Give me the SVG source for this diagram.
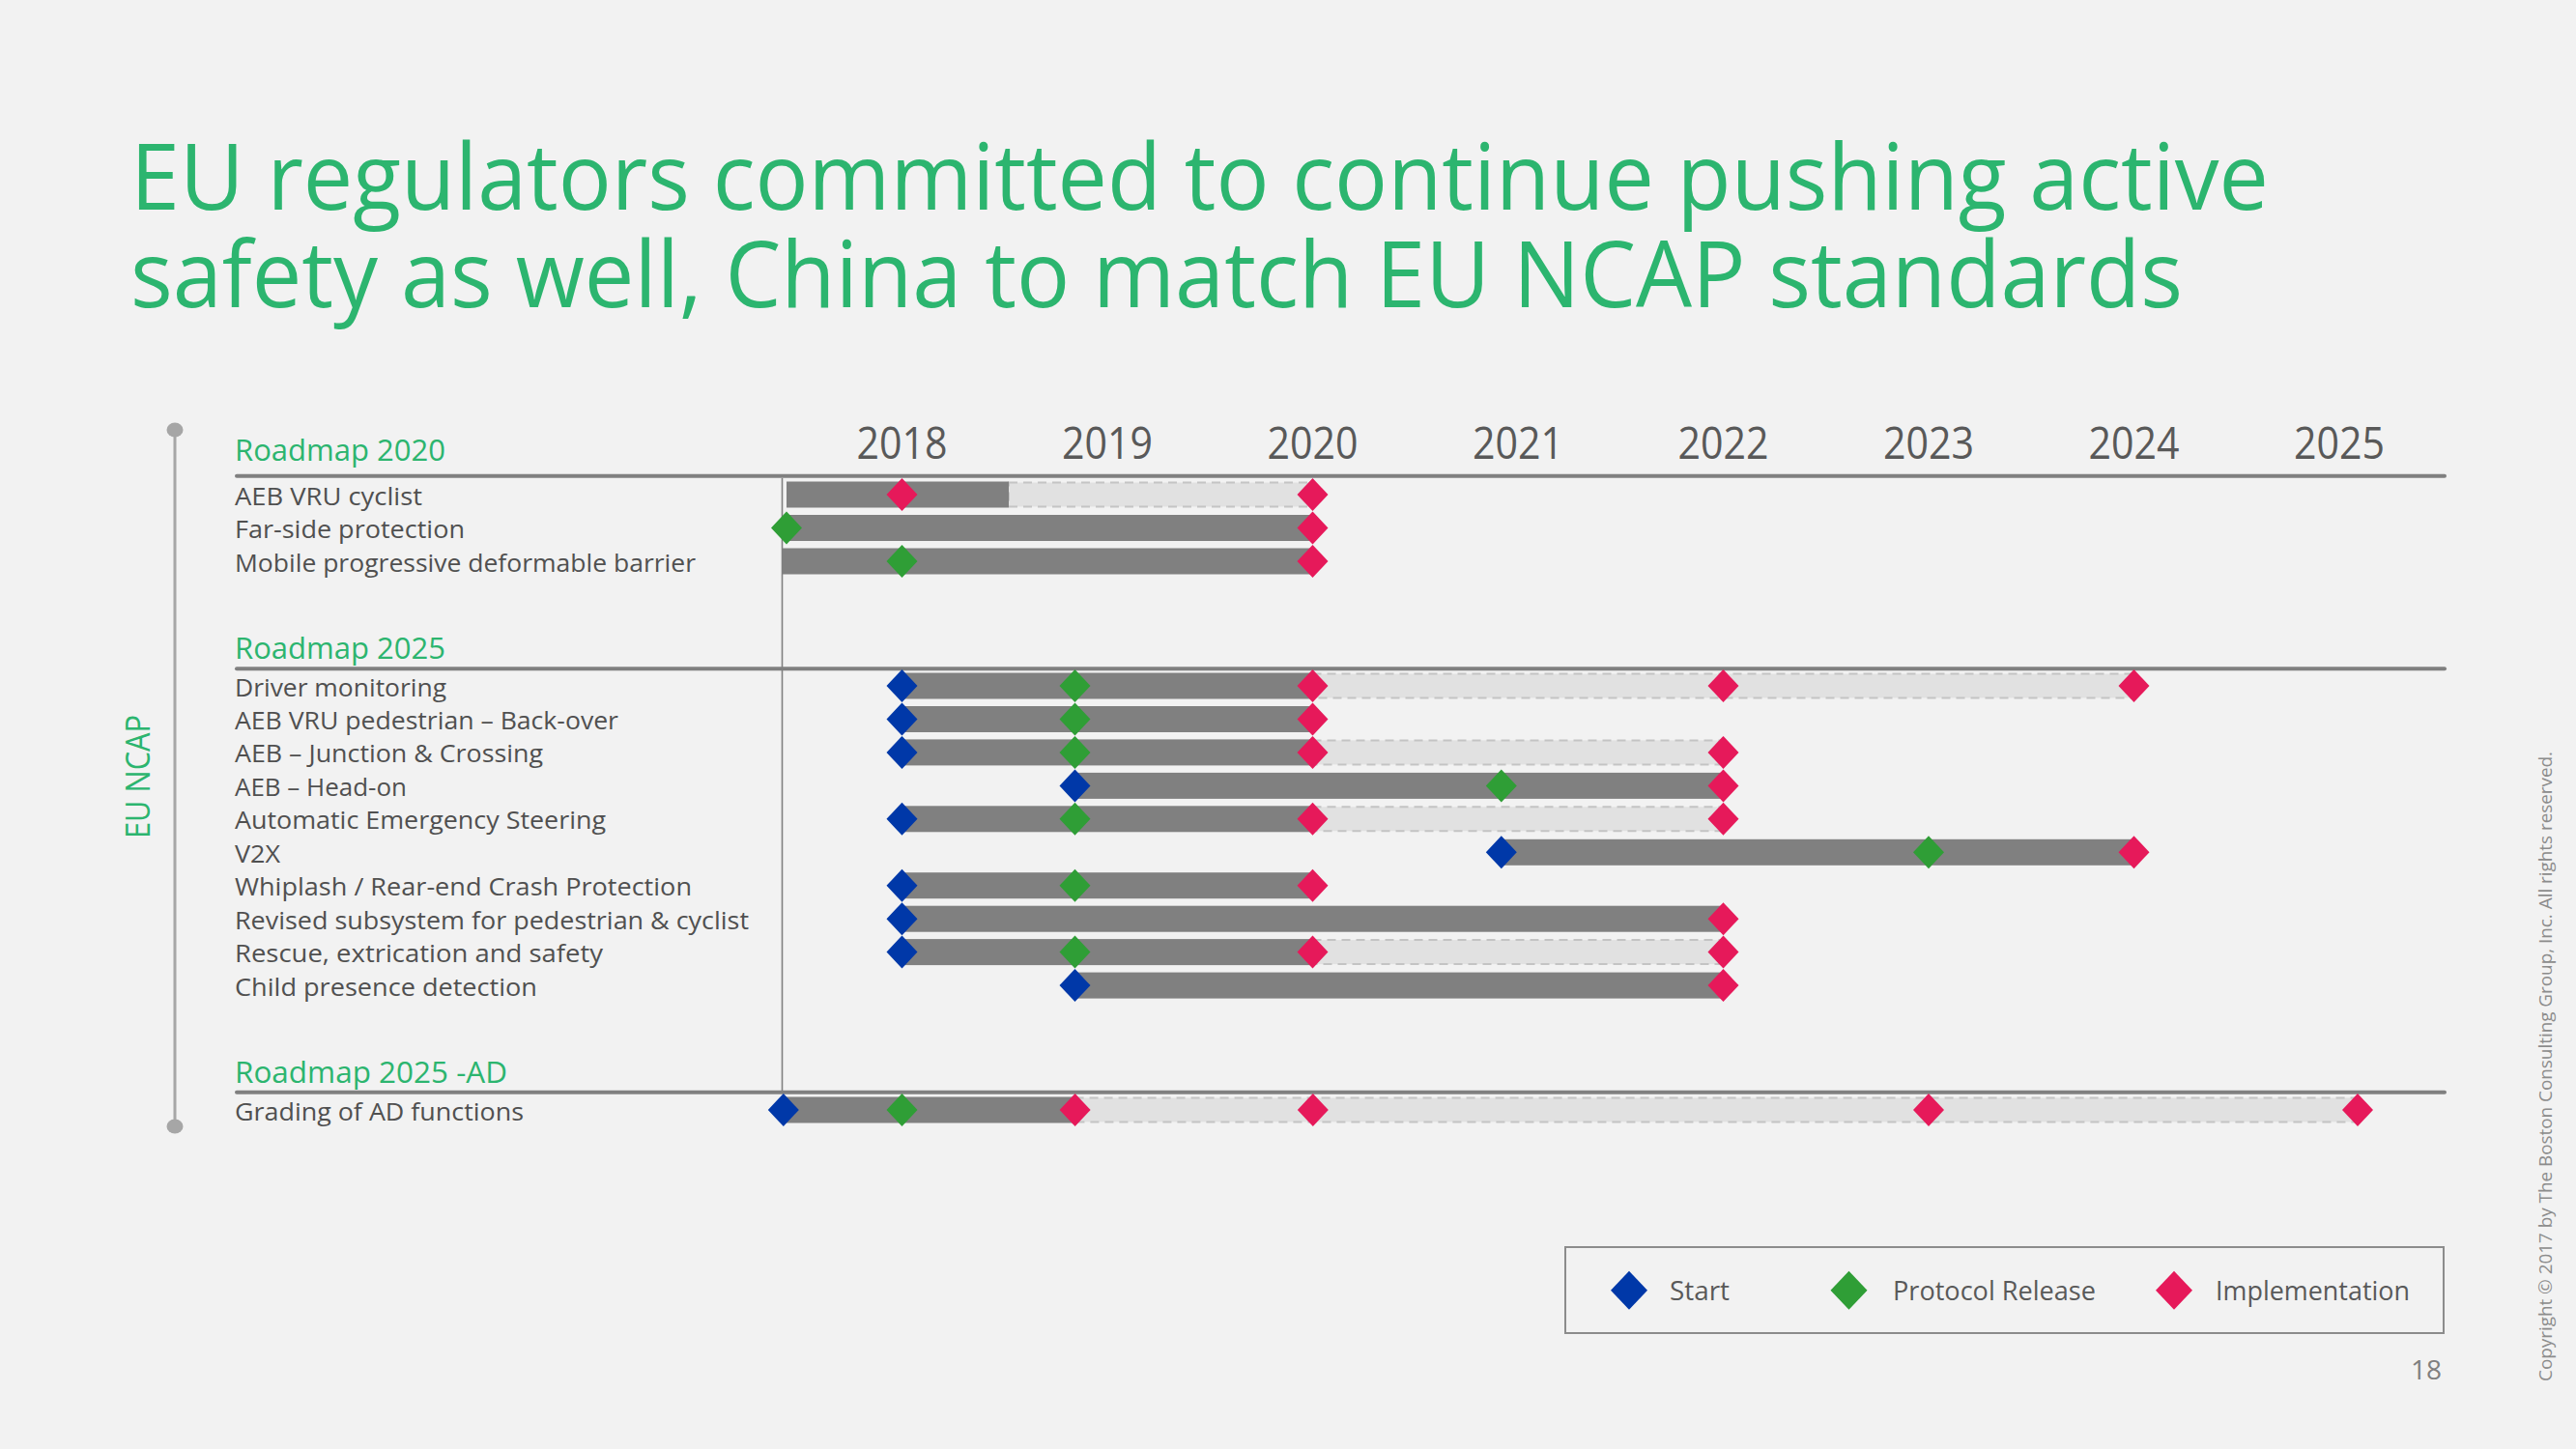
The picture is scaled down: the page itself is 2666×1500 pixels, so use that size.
<svg xmlns="http://www.w3.org/2000/svg" xmlns:xlink="http://www.w3.org/1999/xlink" width="2666" height="1500" viewBox="0 0 2666 1500">
<style>
.bg{fill:#f2f2f2}
.title{font-family:"Open Sans","Liberation Sans",sans-serif;font-size:95px;fill:#2cb56f}
.hdr{font-family:"Open Sans","Liberation Sans",sans-serif;font-size:31px;fill:#2cb56f}
.yr{font-family:"Open Sans","Liberation Sans",sans-serif;font-size:46px;fill:#595959;text-anchor:middle}
.lbl{font-family:"Open Sans","Liberation Sans",sans-serif;font-size:26px;fill:#505050}
.leg{font-family:"Open Sans","Liberation Sans",sans-serif;font-size:28px;fill:#595959}
.side{font-family:"Open Sans","Liberation Sans",sans-serif;font-size:34px;fill:#2cb56f;text-anchor:middle}
.copy{font-family:"Open Sans","Liberation Sans",sans-serif;font-size:18px;fill:#8c8c8c}
.pg{font-family:"Open Sans","Liberation Sans",sans-serif;font-size:28px;fill:#7f7f7f;text-anchor:end}
.dark{fill:#808080}
.light{fill:#e1e1e1;stroke:#c4c4c4;stroke-width:2;stroke-dasharray:9 6}
.hline{stroke:#808080;stroke-width:4;stroke-linecap:round;fill:none}
.b{fill:#0038a8}
.g{fill:#2f9e36}
.r{fill:#e6195a}
</style>
<defs>
<path id="dm" d="M0,-17 L16,0 L0,17 L-16,0Z"/>
<path id="dl" d="M0,-20 L19,0 L0,20 L-19,0Z"/>
</defs>
<rect class="bg" x="0" y="0" width="2666" height="1500"/>

<g id="title">
<text class="title" x="135" y="217" textLength="2213" lengthAdjust="spacingAndGlyphs">EU regulators committed to continue pushing active</text>
<text class="title" x="135" y="318" textLength="2124" lengthAdjust="spacingAndGlyphs">safety as well, China to match EU NCAP standards</text>
</g>

<g id="eu-ncap">
<line x1="181" y1="445" x2="181" y2="1166" stroke="#a6a6a6" stroke-width="3"/>
<ellipse cx="181" cy="445" rx="8.5" ry="7.5" fill="#a6a6a6"/>
<ellipse cx="181" cy="1166" rx="8.5" ry="7.5" fill="#a6a6a6"/>
<text class="side" transform="translate(155,804) rotate(-90)" x="0" y="0" textLength="128" lengthAdjust="spacingAndGlyphs">EU NCAP</text>
</g>

<g id="years">
<text class="yr" x="933.5" y="475" textLength="94" lengthAdjust="spacingAndGlyphs">2018</text>
<text class="yr" x="1146" y="475" textLength="94" lengthAdjust="spacingAndGlyphs">2019</text>
<text class="yr" x="1358.5" y="475" textLength="94" lengthAdjust="spacingAndGlyphs">2020</text>
<text class="yr" x="1571" y="475" textLength="94" lengthAdjust="spacingAndGlyphs">2021</text>
<text class="yr" x="1783.5" y="475" textLength="94" lengthAdjust="spacingAndGlyphs">2022</text>
<text class="yr" x="1996" y="475" textLength="94" lengthAdjust="spacingAndGlyphs">2023</text>
<text class="yr" x="2208.5" y="475" textLength="94" lengthAdjust="spacingAndGlyphs">2024</text>
<text class="yr" x="2421" y="475" textLength="94" lengthAdjust="spacingAndGlyphs">2025</text>
</g>

<g id="connectors">
<line class="hline" x1="245" y1="492.7" x2="2530" y2="492.7"/>
<line class="hline" x1="245" y1="692.3" x2="2530" y2="692.3"/>
<line class="hline" x1="245" y1="1130.7" x2="2530" y2="1130.7"/>
<line x1="809.5" y1="495" x2="809.5" y2="1129" stroke="#808080" stroke-width="1.6"/>
</g>

<g id="headers">
<text class="hdr" x="243" y="477" textLength="218" lengthAdjust="spacingAndGlyphs">Roadmap 2020</text>
<text class="hdr" x="243" y="681.7" textLength="218" lengthAdjust="spacingAndGlyphs">Roadmap 2025</text>
<text class="hdr" x="243" y="1120.7" textLength="282" lengthAdjust="spacingAndGlyphs">Roadmap 2025 -AD</text>
</g>

<!-- Roadmap 2020 -->
<g id="row-aeb-vru-cyclist">
<text class="lbl" x="243" y="522.5" textLength="194" lengthAdjust="spacingAndGlyphs">AEB VRU cyclist</text>
<rect class="light" x="1044" y="499.5" width="314.5" height="25"/>
<rect class="dark" x="814" y="498.5" width="230" height="27"/>
<use xlink:href="#dm" href="#dm" class="r" x="933.5" y="512"/>
<use xlink:href="#dm" href="#dm" class="r" x="1358.5" y="512"/>
</g>
<g id="row-far-side">
<text class="lbl" x="243" y="557" textLength="238" lengthAdjust="spacingAndGlyphs">Far-side protection</text>
<rect class="dark" x="814" y="533" width="544.5" height="27"/>
<use xlink:href="#dm" href="#dm" class="g" x="814" y="546.5"/>
<use xlink:href="#dm" href="#dm" class="r" x="1358.5" y="546.5"/>
</g>
<g id="row-mpdb">
<text class="lbl" x="243" y="591.5" textLength="477" lengthAdjust="spacingAndGlyphs">Mobile progressive deformable barrier</text>
<rect class="dark" x="809.5" y="567.5" width="549" height="27"/>
<use xlink:href="#dm" href="#dm" class="g" x="933.5" y="581"/>
<use xlink:href="#dm" href="#dm" class="r" x="1358.5" y="581"/>
</g>

<!-- Roadmap 2025 -->
<g id="row-driver-monitoring">
<text class="lbl" x="243" y="720.5" textLength="219" lengthAdjust="spacingAndGlyphs">Driver monitoring</text>
<rect class="light" x="1358.5" y="697.5" width="850" height="25"/>
<rect class="dark" x="933.5" y="696.5" width="425" height="27"/>
<use xlink:href="#dm" href="#dm" class="b" x="933.5" y="710"/>
<use xlink:href="#dm" href="#dm" class="g" x="1112.5" y="710"/>
<use xlink:href="#dm" href="#dm" class="r" x="1358.5" y="710"/>
<use xlink:href="#dm" href="#dm" class="r" x="1783.5" y="710"/>
<use xlink:href="#dm" href="#dm" class="r" x="2208.5" y="710"/>
</g>
<g id="row-aeb-back-over">
<text class="lbl" x="243" y="755" textLength="397" lengthAdjust="spacingAndGlyphs">AEB VRU pedestrian – Back-over</text>
<rect class="dark" x="933.5" y="731" width="425" height="27"/>
<use xlink:href="#dm" href="#dm" class="b" x="933.5" y="744.5"/>
<use xlink:href="#dm" href="#dm" class="g" x="1112.5" y="744.5"/>
<use xlink:href="#dm" href="#dm" class="r" x="1358.5" y="744.5"/>
</g>
<g id="row-aeb-junction">
<text class="lbl" x="243" y="789.4" textLength="319" lengthAdjust="spacingAndGlyphs">AEB – Junction &amp; Crossing</text>
<rect class="light" x="1358.5" y="766.4" width="425" height="25"/>
<rect class="dark" x="933.5" y="765.4" width="425" height="27"/>
<use xlink:href="#dm" href="#dm" class="b" x="933.5" y="778.9"/>
<use xlink:href="#dm" href="#dm" class="g" x="1112.5" y="778.9"/>
<use xlink:href="#dm" href="#dm" class="r" x="1358.5" y="778.9"/>
<use xlink:href="#dm" href="#dm" class="r" x="1783.5" y="778.9"/>
</g>
<g id="row-aeb-head-on">
<text class="lbl" x="243" y="823.9" textLength="178" lengthAdjust="spacingAndGlyphs">AEB – Head-on</text>
<rect class="dark" x="1112.5" y="799.9" width="671" height="27"/>
<use xlink:href="#dm" href="#dm" class="b" x="1112.5" y="813.4"/>
<use xlink:href="#dm" href="#dm" class="g" x="1553.8" y="813.4"/>
<use xlink:href="#dm" href="#dm" class="r" x="1783.5" y="813.4"/>
</g>
<g id="row-aes">
<text class="lbl" x="243" y="858.3" textLength="384" lengthAdjust="spacingAndGlyphs">Automatic Emergency Steering</text>
<rect class="light" x="1358.5" y="835.3" width="425" height="25"/>
<rect class="dark" x="933.5" y="834.3" width="425" height="27"/>
<use xlink:href="#dm" href="#dm" class="b" x="933.5" y="847.8"/>
<use xlink:href="#dm" href="#dm" class="g" x="1112.5" y="847.8"/>
<use xlink:href="#dm" href="#dm" class="r" x="1358.5" y="847.8"/>
<use xlink:href="#dm" href="#dm" class="r" x="1783.5" y="847.8"/>
</g>
<g id="row-v2x">
<text class="lbl" x="243" y="892.8" textLength="47" lengthAdjust="spacingAndGlyphs">V2X</text>
<rect class="dark" x="1553.8" y="868.8" width="654.7" height="27"/>
<use xlink:href="#dm" href="#dm" class="b" x="1553.8" y="882.3"/>
<use xlink:href="#dm" href="#dm" class="g" x="1996" y="882.3"/>
<use xlink:href="#dm" href="#dm" class="r" x="2208.5" y="882.3"/>
</g>
<g id="row-whiplash">
<text class="lbl" x="243" y="927.2" textLength="473" lengthAdjust="spacingAndGlyphs">Whiplash / Rear-end Crash Protection</text>
<rect class="dark" x="933.5" y="903.2" width="425" height="27"/>
<use xlink:href="#dm" href="#dm" class="b" x="933.5" y="916.7"/>
<use xlink:href="#dm" href="#dm" class="g" x="1112.5" y="916.7"/>
<use xlink:href="#dm" href="#dm" class="r" x="1358.5" y="916.7"/>
</g>
<g id="row-revised-subsystem">
<text class="lbl" x="243" y="961.7" textLength="532" lengthAdjust="spacingAndGlyphs">Revised subsystem for pedestrian &amp; cyclist</text>
<rect class="dark" x="933.5" y="937.7" width="850" height="27"/>
<use xlink:href="#dm" href="#dm" class="b" x="933.5" y="951.2"/>
<use xlink:href="#dm" href="#dm" class="r" x="1783.5" y="951.2"/>
</g>
<g id="row-rescue">
<text class="lbl" x="243" y="996.1" textLength="381" lengthAdjust="spacingAndGlyphs">Rescue, extrication and safety</text>
<rect class="light" x="1358.5" y="973.1" width="425" height="25"/>
<rect class="dark" x="933.5" y="972.1" width="425" height="27"/>
<use xlink:href="#dm" href="#dm" class="b" x="933.5" y="985.6"/>
<use xlink:href="#dm" href="#dm" class="g" x="1112.5" y="985.6"/>
<use xlink:href="#dm" href="#dm" class="r" x="1358.5" y="985.6"/>
<use xlink:href="#dm" href="#dm" class="r" x="1783.5" y="985.6"/>
</g>
<g id="row-child-presence">
<text class="lbl" x="243" y="1030.6" textLength="313" lengthAdjust="spacingAndGlyphs">Child presence detection</text>
<rect class="dark" x="1112.5" y="1006.6" width="671" height="27"/>
<use xlink:href="#dm" href="#dm" class="b" x="1112.5" y="1020.1"/>
<use xlink:href="#dm" href="#dm" class="r" x="1783.5" y="1020.1"/>
</g>

<!-- Roadmap 2025 -AD -->
<g id="row-grading-ad">
<text class="lbl" x="243" y="1159.5" textLength="299" lengthAdjust="spacingAndGlyphs">Grading of AD functions</text>
<rect class="light" x="1112.6" y="1136.5" width="1327.4" height="25"/>
<rect class="dark" x="810.8" y="1135.5" width="301.8" height="27"/>
<use xlink:href="#dm" href="#dm" class="b" x="810.8" y="1149"/>
<use xlink:href="#dm" href="#dm" class="g" x="933.5" y="1149"/>
<use xlink:href="#dm" href="#dm" class="r" x="1112.6" y="1149"/>
<use xlink:href="#dm" href="#dm" class="r" x="1358.8" y="1149"/>
<use xlink:href="#dm" href="#dm" class="r" x="1996" y="1149"/>
<use xlink:href="#dm" href="#dm" class="r" x="2440" y="1149"/>
</g>

<g id="legend">
<rect x="1620" y="1291" width="909" height="89" fill="none" stroke="#8c8c8c" stroke-width="2"/>
<use xlink:href="#dl" href="#dl" class="b" x="1686" y="1335.7"/>
<text class="leg" x="1728" y="1346" textLength="62" lengthAdjust="spacingAndGlyphs">Start</text>
<use xlink:href="#dl" href="#dl" class="g" x="1913.5" y="1335.7"/>
<text class="leg" x="1959" y="1346" textLength="210" lengthAdjust="spacingAndGlyphs">Protocol Release</text>
<use xlink:href="#dl" href="#dl" class="r" x="2250" y="1335.7"/>
<text class="leg" x="2293" y="1346" textLength="201" lengthAdjust="spacingAndGlyphs">Implementation</text>
</g>

<g id="footer">
<text class="pg" x="2527" y="1428">18</text>
<text class="copy" transform="translate(2641,1430) rotate(-90)" x="0" y="0" textLength="652" lengthAdjust="spacingAndGlyphs">Copyright © 2017 by The Boston Consulting Group, Inc. All rights reserved.</text>
</g>
</svg>
